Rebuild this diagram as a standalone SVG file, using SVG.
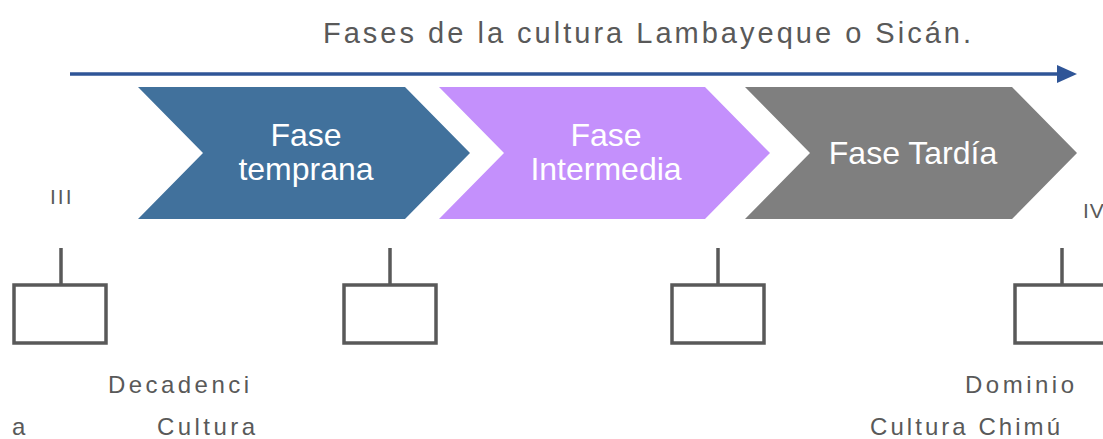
<svg xmlns="http://www.w3.org/2000/svg" width="1103" height="439" viewBox="0 0 1103 439">
<style>
.lbl{font-family:"Liberation Sans",Arial,sans-serif;fill:#595959;}
.ph{font-family:"Liberation Sans",Arial,sans-serif;fill:#ffffff;font-size:32px;text-anchor:middle;}
.box{fill:#ffffff;stroke:#595959;stroke-width:3.5;}
.stem{stroke:#595959;stroke-width:3.5;}
</style>
<rect width="1103" height="439" fill="#ffffff"/>
<text class="lbl" x="323" y="43" font-size="29" textLength="648" lengthAdjust="spacing">Fases de la cultura Lambayeque o Sicán.</text>
<g id="connectors">
<line x1="70" y1="74" x2="1058" y2="74" stroke="#2F5597" stroke-width="3.5"/>
<path d="M1057,65 L1077,74 L1057,83 z" fill="#2F5597"/>
<line class="stem" x1="61" y1="248" x2="61" y2="285"/>
<line class="stem" x1="390" y1="248" x2="390" y2="285"/>
<line class="stem" x1="718" y1="248" x2="718" y2="285"/>
<line class="stem" x1="1062" y1="248" x2="1062" y2="285"/>
</g>
<g id="phase1">
<polygon points="138,87 405,87 470,153 405,219 138,219 203,153" fill="#41719C"/>
<text class="ph" x="306" y="146">Fase</text>
<text class="ph" x="306" y="180">temprana</text>
</g>
<g id="phase2">
<polygon points="439,87 705,87 770,153 705,219 439,219 504,153" fill="#C490FC"/>
<text class="ph" x="606" y="146">Fase</text>
<text class="ph" x="606" y="180">Intermedia</text>
</g>
<g id="phase3">
<polygon points="745,87 1012,87 1077,153 1012,219 745,219 810,153" fill="#7F7F7F"/>
<text class="ph" x="913" y="164">Fase Tardía</text>
</g>
<g id="box1"><rect class="box" x="14" y="285" width="92" height="58"/></g>
<g id="box2"><rect class="box" x="344" y="285" width="92" height="58"/></g>
<g id="box3"><rect class="box" x="672" y="285" width="92" height="58"/></g>
<g id="box4"><rect class="box" x="1015" y="285" width="92" height="58"/></g>
<text class="lbl" x="50" y="204" font-size="21" letter-spacing="2">III</text>
<text class="lbl" x="1083" y="218" font-size="21" letter-spacing="1">IV</text>
<text class="lbl" x="108" y="393" font-size="24" textLength="141" lengthAdjust="spacing">Decadenci</text>
<text class="lbl" x="12" y="435" font-size="24">a</text>
<text class="lbl" x="157" y="435" font-size="24" textLength="98" lengthAdjust="spacing">Cultura</text>
<text class="lbl" x="965" y="393" font-size="24" textLength="109" lengthAdjust="spacing">Dominio</text>
<text class="lbl" x="870" y="435" font-size="24" textLength="190" lengthAdjust="spacing">Cultura Chimú</text>
</svg>
